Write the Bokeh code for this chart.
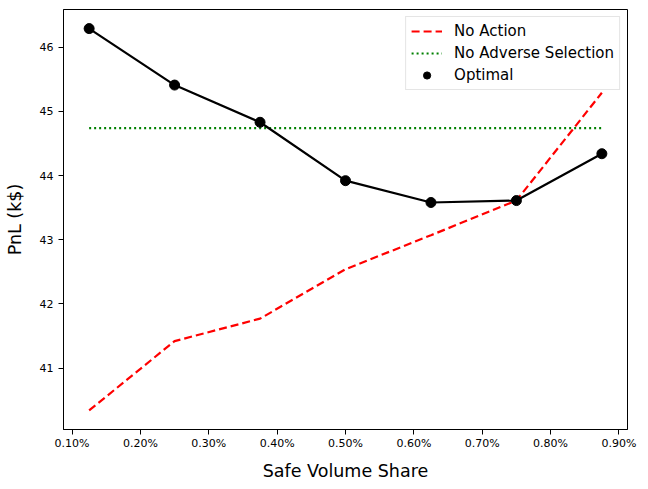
from bokeh.plotting import figure
from bokeh.models import FixedTicker, PrintfTickFormatter, Range1d, Legend, LegendItem
from bokeh.embed import file_html
from bokeh.resources import INLINE

# ---- data ----
safe_share = [0.125, 0.25, 0.375, 0.5, 0.625, 0.75, 0.875]          # % of volume
no_action = [40.34, 41.42, 41.77, 42.54, 43.07, 43.61, 45.29]       # PnL k$
no_adverse = [44.74, 44.74, 44.74, 44.74, 44.74, 44.74, 44.74]      # PnL k$
optimal = [46.29, 45.41, 44.83, 43.92, 43.58, 43.61, 44.34]         # PnL k$
x_ticks = [0.1, 0.2, 0.3, 0.4, 0.5, 0.6, 0.7, 0.8, 0.9]
y_ticks = [41, 42, 43, 44, 45, 46]

FONT = "DejaVu Sans"

# matplotlib-like 5% margins
xmin, xmax = min(safe_share), max(safe_share)
xpad = 0.05 * (xmax - xmin)
all_y = no_action + no_adverse + optimal
ymin, ymax = min(all_y), max(all_y)
ypad = 0.05 * (ymax - ymin)

p = figure(width=648, height=489, output_backend="svg", toolbar_location=None,
           x_range=Range1d(xmin - xpad, xmax + xpad),
           y_range=Range1d(ymin - ypad, ymax + ypad),
           min_border_left=63, min_border_right=21, min_border_top=9, min_border_bottom=60)

p.background_fill_color = "white"
p.border_fill_color = "white"
p.outline_line_color = "black"
p.outline_line_width = 1
p.grid.visible = False

for ax in (p.xaxis[0], p.yaxis[0]):
    ax.axis_line_color = "black"
    ax.major_tick_line_color = "black"
    ax.major_tick_out = 5
    ax.major_tick_in = 0
    ax.minor_tick_line_color = None
    ax.major_label_text_font = FONT
    ax.major_label_text_font_size = "11px"
    ax.major_label_text_color = "black"
    ax.axis_label_text_font = FONT
    ax.axis_label_text_font_size = "17.5px"
    ax.axis_label_text_font_style = "normal"
    ax.axis_label_text_color = "black"

p.xaxis.ticker = FixedTicker(ticks=x_ticks)
p.xaxis.formatter = PrintfTickFormatter(format="%.2f%%")
p.xaxis.axis_label = "Safe Volume Share"
p.xaxis.major_label_standoff = 2
p.xaxis.axis_label_standoff = 8

p.yaxis.ticker = FixedTicker(ticks=y_ticks)
p.yaxis.axis_label = "PnL (k$)"
p.yaxis.major_label_standoff = 5
p.yaxis.axis_label_standoff = 12

r_na = p.line(safe_share, no_action, line_color="#ff0000", line_width=2.2, line_dash="8 4")
r_nas = p.line(safe_share, no_adverse, line_color="#008000", line_width=2.2, line_dash="2 3")
p.line(safe_share, optimal, line_color="black", line_width=2.2)
r_opt = p.scatter(safe_share, optimal, size=10, fill_color="black", line_color="black")

legend = Legend(items=[LegendItem(label="No Action", renderers=[r_na]),
                       LegendItem(label="No Adverse Selection", renderers=[r_nas]),
                       LegendItem(label="Optimal", renderers=[r_opt])],
                location="top_right", margin=7, padding=5, spacing=4,
                glyph_height=18, glyph_width=31, label_height=18, label_standoff=12,
                label_text_font=FONT, label_text_font_size="15px", label_text_color="black",
                border_line_color="#cccccc", border_line_width=1,
                background_fill_color="white", background_fill_alpha=0.8)
p.add_layout(legend, "center")

open("out.html", "w").write(file_html(p, INLINE))
